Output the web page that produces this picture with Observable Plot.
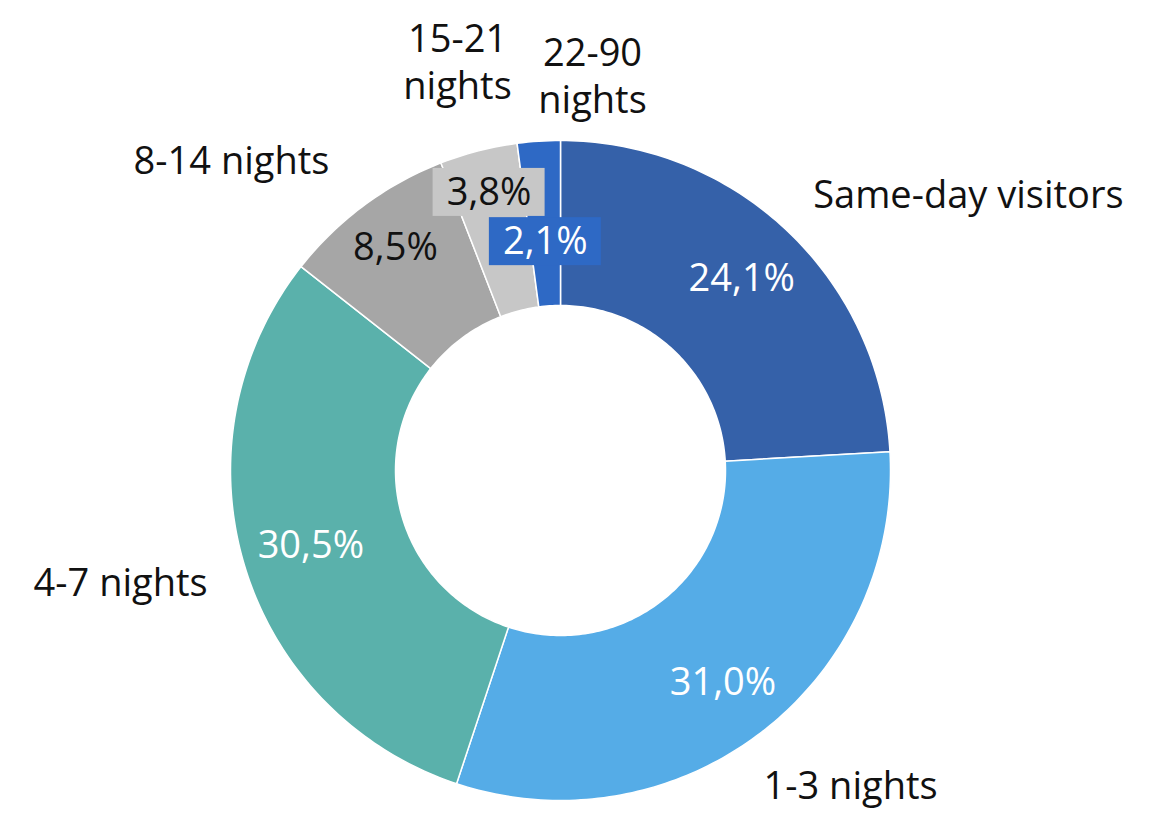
<!DOCTYPE html>
<html>
<head>
<meta charset="utf-8">
<script src="https://cdn.jsdelivr.net/npm/d3@7"></script>
<script src="https://cdn.jsdelivr.net/npm/@observablehq/plot@0.6"></script>
<style>
  html, body { margin: 0; padding: 0; background: #fff; }
  #chart svg { display: block; }
</style>
</head>
<body>
<div id="chart"></div>
<script>
// ---- data ----
const categories = ["Same-day visitors", "1-3 nights", "4-7 nights", "8-14 nights", "15-21 nights", "22-90 nights"];
const shares = [24.1, 31.0, 30.5, 8.5, 3.8, 2.1];
const valueLabels = ["24,1%", "31,0%", "30,5%", "8,5%", "3,8%", "2,1%"];
const categoryLabels = ["Same-day visitors", "1-3 nights", "4-7 nights", "8-14 nights", "15-21\nnights", "22-90\nnights"];
const sliceColors = ["#3561a9", "#55ace7", "#5ab1ab", "#a6a6a6", "#c7c7c7", "#2e69c5"];

// ---- layout (styling, not data) ----
const W = 1149, H = 813;
const R = 330;               // outer radius in px
const cx = 560, cy = 470;    // centre in px
const inner = 0.5;           // inner radius as fraction of outer
const fs = 38;               // font size
const lineGap = 47;          // px between lines of a wrapped label
const valueTextColor = {"Same-day visitors": "white", "1-3 nights": "white", "4-7 nights": "white", "8-14 nights": "#111", "15-21 nights": "#111", "22-90 nights": "white"};
const valueRadius = {"Same-day visitors": 0.80, "1-3 nights": 0.81, "4-7 nights": 0.79, "8-14 nights": 0.84, "15-21 nights": 0.87, "22-90 nights": 0.695};
const boxed = {"15-21 nights": true, "22-90 nights": true};
// outside label anchor points (centre of label block), in radius units relative to centre (y up)
const outerLabelPos = {
  "Same-day visitors": [1.236, 0.833],
  "1-3 nights": [0.879, -0.96],
  "4-7 nights": [-1.333, -0.342],
  "8-14 nights": [-0.997, 0.936],
  "15-21 nights": [-0.312, 1.235],
  "22-90 nights": [0.097, 1.19]
};

const data = categories.map((c, i) => ({category: c, share: shares[i], value: valueLabels[i], label: categoryLabels[i]}));
const total = d3.sum(shares);
let acc = 0;
for (const d of data) {
  d.a0 = acc / total * 2 * Math.PI;
  acc += d.share;
  d.a1 = acc / total * 2 * Math.PI;
  d.mid = (d.a0 + d.a1) / 2;
}

// slice outlines (geometry of each annular sector, from the data angles)
const ringPoints = [];
for (const d of data) {
  const n = Math.max(4, Math.ceil((d.a1 - d.a0) / (Math.PI / 180)));
  const pts = [];
  for (let k = 0; k <= n; k++) {
    const a = d.a0 + (d.a1 - d.a0) * k / n;
    pts.push([Math.sin(a), Math.cos(a)]);
  }
  for (let k = n; k >= 0; k--) {
    const a = d.a0 + (d.a1 - d.a0) * k / n;
    pts.push([inner * Math.sin(a), inner * Math.cos(a)]);
  }
  pts.push(pts[0]);
  for (const [x, y] of pts) ringPoints.push({category: d.category, x, y});
}

const valuePts = data.map(d => ({
  ...d,
  x: valueRadius[d.category] * Math.sin(d.mid),
  y: valueRadius[d.category] * Math.cos(d.mid),
  tc: valueTextColor[d.category]
}));
const bw = 56 / R, bh = 24 / R;
const boxes = valuePts.filter(d => boxed[d.category]);

// outside labels, one text per line
const outerPts = [];
for (const d of data) {
  const lines = d.label.split("\n");
  const [px, py] = outerLabelPos[d.category];
  lines.forEach((t, i) => {
    const off = (i - (lines.length - 1) / 2) * lineGap / R;
    outerPts.push({category: d.category, text: t, x: px, y: py - off});
  });
}

const font = "'Open Sans', 'Noto Sans', sans-serif";

const chart = Plot.plot({
  width: W,
  height: H,
  margin: 0,
  style: {fontFamily: font, background: "white"},
  x: {domain: [-cx / R, (W - cx) / R], axis: null},
  y: {domain: [-(H - cy) / R, cy / R], axis: null},
  color: {domain: categories, range: sliceColors},
  marks: [
    Plot.line(ringPoints, {x: "x", y: "y", z: "category", fill: "category", stroke: "white", strokeWidth: 1.5, curve: "linear"}),
    Plot.rect(boxes, {x1: d => d.x - bw, x2: d => d.x + bw, y1: d => d.y - bh, y2: d => d.y + bh, fill: "category"}),
    Plot.text(valuePts.filter(d => d.tc === "white"), {x: "x", y: "y", text: "value", fill: "white", fontSize: fs}),
    Plot.text(valuePts.filter(d => d.tc !== "white"), {x: "x", y: "y", text: "value", fill: "#111", fontSize: fs}),
    Plot.text(outerPts, {x: "x", y: "y", text: "text", fill: "#111", fontSize: fs})
  ]
});
document.getElementById("chart").append(chart);
</script>
</body>
</html>
